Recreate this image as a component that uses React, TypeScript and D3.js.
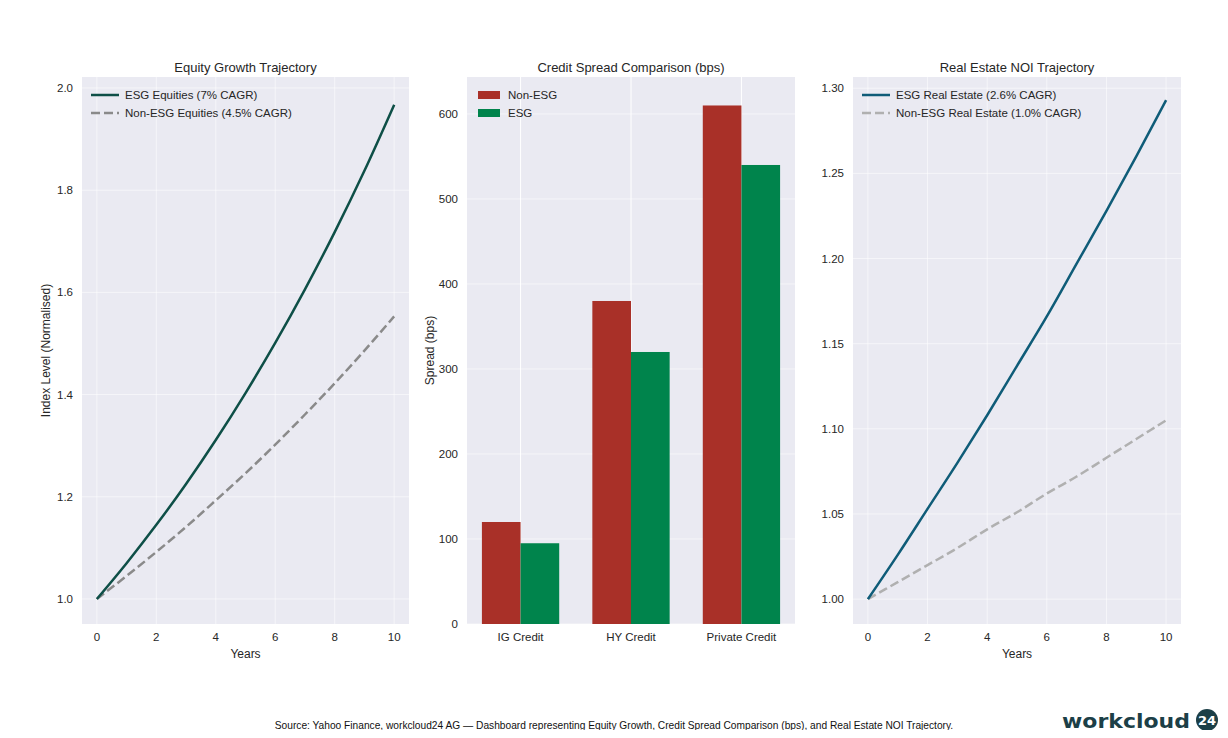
import { useEffect, useRef } from 'react';
import * as d3 from 'd3';

const years = [0, 1, 2, 3, 4, 5, 6, 7, 8, 9, 10];
const esgEquities = [1.0, 1.07, 1.145, 1.225, 1.311, 1.403, 1.501, 1.606, 1.718, 1.838, 1.967];
const nonEsgEquities = [1.0, 1.045, 1.092, 1.141, 1.193, 1.246, 1.302, 1.361, 1.422, 1.486, 1.553];
const esgRealEstate = [1.0, 1.026, 1.053, 1.08, 1.108, 1.137, 1.166, 1.197, 1.228, 1.26, 1.293];
const nonEsgRealEstate = [1.0, 1.01, 1.02, 1.03, 1.041, 1.051, 1.062, 1.072, 1.083, 1.094, 1.105];

const creditCategories = ['IG Credit', 'HY Credit', 'Private Credit'];
const nonEsgSpread = [120, 380, 610];
const esgSpread = [95, 320, 540];

const equityTicks = [1.0, 1.2, 1.4, 1.6, 1.8, 2.0];
const spreadTicks = [0, 100, 200, 300, 400, 500, 600];
const realEstateTicks = [1.0, 1.05, 1.1, 1.15, 1.2, 1.25, 1.3];
const yearTicks = [0, 2, 4, 6, 8, 10];

const FONT = '"Liberation Sans", Arial, sans-serif';
const BG = '#eaeaf2';
const TXT = '#262626';

export default function App() {
  const svgRef = useRef<SVGSVGElement>(null);
  const width = 1228;
  const height = 738;
  const top = 77;
  const bottom = 624;

  useEffect(() => {
    if (!svgRef.current) return;
    const svg = d3.select(svgRef.current);
    svg.selectAll('*').remove();

    svg.append('rect').attr('width', width).attr('height', height).attr('fill', 'white');

    // generic panel frame with grid + ticks
    const panel = (
      x0: number, x1: number,
      y: d3.ScaleLinear<number, number>,
      yTicks: number[], yFmt: (d: number) => string,
      title: string, yLabel: string | null, labelX: number
    ) => {
      const g = svg.append('g');
      g.append('rect').attr('x', x0).attr('y', top).attr('width', x1 - x0).attr('height', bottom - top).attr('fill', BG);
      yTicks.forEach(t => {
        g.append('line').attr('x1', x0).attr('x2', x1).attr('y1', y(t)).attr('y2', y(t))
          .attr('stroke', 'white').attr('stroke-width', 1).attr('stroke-opacity', 0.55);
        g.append('text').attr('x', x0 - 9).attr('y', y(t)).attr('dy', '0.35em')
          .attr('text-anchor', 'end').attr('font-size', 11.5).attr('fill', TXT).attr('font-family', FONT)
          .text(yFmt(t));
      });
      g.append('text').attr('x', (x0 + x1) / 2).attr('y', 72).attr('text-anchor', 'middle')
        .attr('font-size', 13).attr('fill', TXT).attr('font-family', FONT).text(title);
      if (yLabel) {
        g.append('text').attr('transform', `translate(${labelX},${(top + bottom) / 2}) rotate(-90)`)
          .attr('text-anchor', 'middle').attr('font-size', 12).attr('fill', TXT).attr('font-family', FONT)
          .text(yLabel);
      }
      return g;
    };

    const linePanel = (
      x0: number, x1: number, yDomain: [number, number], yTicks: number[], yFmt: (d: number) => string,
      title: string, yLabel: string | null,
      series: { values: number[]; color: string; dashed: boolean; label: string }[]
    ) => {
      const x = d3.scaleLinear().domain([-0.5, 10.5]).range([x0, x1]);
      const y = d3.scaleLinear().domain(yDomain).range([bottom, top]);
      const g = panel(x0, x1, y, yTicks, yFmt, title, yLabel, x0 - 32);
      yearTicks.forEach(t => {
        g.append('line').attr('x1', x(t)).attr('x2', x(t)).attr('y1', top).attr('y2', bottom)
          .attr('stroke', 'white').attr('stroke-width', 1).attr('stroke-opacity', 0.55);
        g.append('text').attr('x', x(t)).attr('y', 641).attr('text-anchor', 'middle')
          .attr('font-size', 11.5).attr('fill', TXT).attr('font-family', FONT).text(String(t));
      });
      g.append('text').attr('x', (x0 + x1) / 2).attr('y', 658).attr('text-anchor', 'middle')
        .attr('font-size', 12).attr('fill', TXT).attr('font-family', FONT).text('Years');
      const line = d3.line<number>().x((_, i) => x(years[i])).y(d => y(d)).curve(d3.curveMonotoneX);
      series.slice().reverse().forEach(s => {
        g.append('path').attr('d', line(s.values)).attr('fill', 'none').attr('stroke', s.color)
          .attr('stroke-width', 2.5).attr('stroke-dasharray', s.dashed ? '9,4' : null);
      });
      series.forEach((s, i) => {
        const ly = 95 + i * 18;
        g.append('line').attr('x1', x0 + 9).attr('x2', x0 + 37).attr('y1', ly).attr('y2', ly)
          .attr('stroke', s.color).attr('stroke-width', 2.5).attr('stroke-dasharray', s.dashed ? '9,4' : null);
        g.append('text').attr('x', x0 + 43).attr('y', ly).attr('dy', '0.35em')
          .attr('font-size', 11.5).attr('fill', TXT).attr('font-family', FONT).text(s.label);
      });
    };

    linePanel(82, 409, [0.951, 2.0215], equityTicks, d3.format('.1f'),
      'Equity Growth Trajectory', 'Index Level (Normalised)', [
        { values: esgEquities, color: '#0e4f47', dashed: false, label: 'ESG Equities (7% CAGR)' },
        { values: nonEsgEquities, color: '#8a8a8a', dashed: true, label: 'Non-ESG Equities (4.5% CAGR)' },
      ]);

    linePanel(853, 1181, [0.9854, 1.3066], realEstateTicks, d3.format('.2f'),
      'Real Estate NOI Trajectory', null, [
        { values: esgRealEstate, color: '#0f5c78', dashed: false, label: 'ESG Real Estate (2.6% CAGR)' },
        { values: nonEsgRealEstate, color: '#b0b0b0', dashed: true, label: 'Non-ESG Real Estate (1.0% CAGR)' },
      ]);

    // bar panel
    const bx0 = 467, bx1 = 795;
    const xb = d3.scaleLinear().domain([-0.485, 2.485]).range([bx0, bx1]);
    const yb = d3.scaleLinear().domain([0, 643.5]).range([bottom, top]);
    const gb = panel(bx0, bx1, yb, spreadTicks, d3.format('d'), 'Credit Spread Comparison (bps)', 'Spread (bps)', bx0 - 33);
    const bw = 0.35;
    creditCategories.forEach((c, i) => {
      gb.append('line').attr('x1', xb(i)).attr('x2', xb(i)).attr('y1', top).attr('y2', bottom)
        .attr('stroke', 'white').attr('stroke-width', 1);
      gb.append('text').attr('x', xb(i)).attr('y', 641).attr('text-anchor', 'middle')
        .attr('font-size', 11.5).attr('fill', TXT).attr('font-family', FONT).text(c);
    });
    const barColors = ['#a93028', '#00844c'];
    [nonEsgSpread, esgSpread].forEach((vals, s) => {
      vals.forEach((v, i) => {
        const xl = s === 0 ? xb(i - bw) : xb(i);
        gb.append('rect').attr('x', xl).attr('y', yb(v)).attr('width', xb(bw) - xb(0))
          .attr('height', yb(0) - yb(v)).attr('fill', barColors[s]);
      });
    });
    ['Non-ESG', 'ESG'].forEach((l, i) => {
      const ly = 95 + i * 18;
      gb.append('rect').attr('x', bx0 + 11).attr('y', ly - 4).attr('width', 22).attr('height', 8)
        .attr('fill', barColors[i]);
      gb.append('text').attr('x', bx0 + 41).attr('y', ly).attr('dy', '0.35em')
        .attr('font-size', 11.5).attr('fill', TXT).attr('font-family', FONT).text(l);
    });

    // footer
    svg.append('text').attr('x', 614).attr('y', 729).attr('text-anchor', 'middle')
      .attr('font-size', 10.2).attr('fill', '#111').attr('font-family', FONT)
      .text('Source: Yahoo Finance, workcloud24 AG — Dashboard representing Equity Growth, Credit Spread Comparison (bps), and Real Estate NOI Trajectory.');

    // logo
    const logo = svg.append('g');
    logo.append('text').attr('x', 1062).attr('y', 728).attr('font-size', 20).attr('font-weight', 'bold')
      .attr('fill', '#1c3f47').attr('font-family', '"DejaVu Sans", sans-serif')
      .attr('textLength', 128).attr('lengthAdjust', 'spacingAndGlyphs')
      .text('workcloud');
    logo.append('circle').attr('cx', 1207).attr('cy', 720).attr('r', 11).attr('fill', '#1c3f47');
    logo.append('text').attr('x', 1207).attr('y', 720).attr('dy', '0.36em').attr('text-anchor', 'middle')
      .attr('font-size', 13).attr('font-weight', 'bold').attr('fill', 'white')
      .attr('font-family', '"DejaVu Sans", sans-serif').text('24');
  }, []);

  return (
    <svg ref={svgRef} width={width} height={height} viewBox={`0 0 ${width} ${height}`}
      style={{ display: 'block', margin: '-8px' }} />
  );
}
